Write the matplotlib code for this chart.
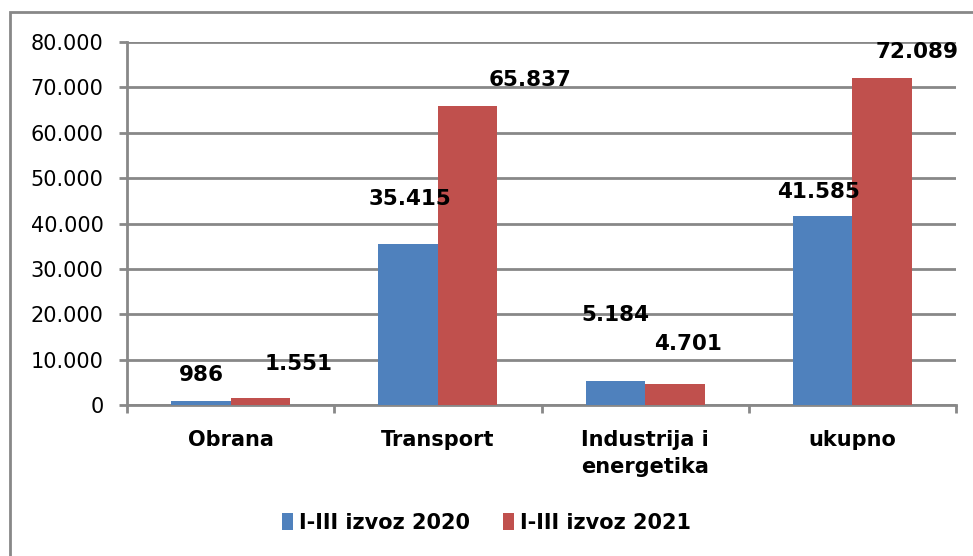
import numpy as np
import matplotlib
matplotlib.use("Agg")
import matplotlib.pyplot as plt
from matplotlib.patches import Rectangle
from matplotlib.ticker import FuncFormatter

# podaci
categories = ["Obrana", "Transport", "Industrija i\nenergetika", "ukupno"]
izvoz_2020 = [986, 35415, 5184, 41585]
izvoz_2021 = [1551, 65837, 4701, 72089]
series_names = ["I-III izvoz 2020", "I-III izvoz 2021"]

# pomaci oznaka (pikseli) - rucno namjesteni kao na slici
off_2020 = [(0, 26), (2, 45), (0, 66), (-4, 24)]
off_2021 = [(38, 34), (62, 26), (13, 40), (35, 26)]

BLUE = "#4F81BD"
RED = "#C0504D"
GRID = "#888888"

plt.rcParams["font.family"] = ["DejaVu Sans"]

fig = plt.figure(figsize=(9.73, 5.56), dpi=100)
ax = fig.add_axes([127/973, 1-405/556, (956-127)/973, (405-42)/556])

x = np.arange(len(categories))
w = 0.287
b1 = ax.bar(x - w/2, izvoz_2020, w, color=BLUE, label=series_names[0], zorder=3)
b2 = ax.bar(x + w/2, izvoz_2021, w, color=RED, label=series_names[1], zorder=3)

def fmt(v, pos=None):
    return f"{int(v):,}".replace(",", ".")

for bars, vals, offs in [(b1, izvoz_2020, off_2020), (b2, izvoz_2021, off_2021)]:
    for r, v, o in zip(bars, vals, offs):
        ax.annotate(fmt(v), (r.get_x() + r.get_width()/2, v), xytext=o,
                    textcoords="offset pixels", ha="center", va="center",
                    fontsize=15.5, fontweight="bold", color="black", zorder=5)

ax.set_xlim(-0.5, len(categories) - 0.5)
ax.set_ylim(0, 80000)
ax.set_yticks(np.arange(0, 80001, 10000))
ax.yaxis.set_major_formatter(FuncFormatter(fmt))
ax.grid(axis="y", color=GRID, linewidth=2, zorder=0)

ax.set_xticks(x)
ax.set_xticklabels(categories, fontsize=15, fontweight="bold", linespacing=1.45, va="top")
ax.set_xticks(np.arange(-0.5, len(categories)), minor=True)
ax.tick_params(axis="x", which="major", length=0, pad=18)
ax.tick_params(axis="x", which="minor", length=6, width=2, color=GRID)
ax.tick_params(axis="y", length=6, width=2, color=GRID, labelsize=15, pad=11)

for s in ["top", "right"]:
    ax.spines[s].set_visible(False)
for s in ["left", "bottom"]:
    ax.spines[s].set_color(GRID)
    ax.spines[s].set_linewidth(2)

leg = fig.legend(loc="center", bbox_to_anchor=(0.5, 1-523/556), ncol=2, frameon=False,
                 prop={"size": 15, "weight": "bold"}, handlelength=0.5, handleheight=0.9,
                 handletextpad=0.3, columnspacing=1.6)

fig.patches.append(Rectangle((10/973, -0.1), 1.2, 1-12/556 + 0.1, transform=fig.transFigure,
                             fill=False, edgecolor=GRID, linewidth=2))

fig.savefig("out.png", dpi=100)
